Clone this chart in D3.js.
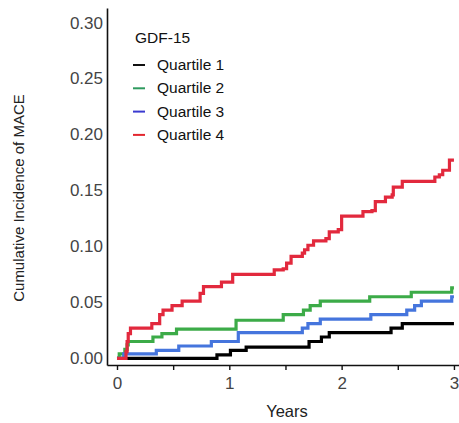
<!DOCTYPE html>
<html>
<head>
<meta charset="utf-8">
<script src="https://cdn.jsdelivr.net/npm/d3@7"></script>
<style>
  body { margin: 0; background: #fff; }
  text { font-family: "Liberation Sans", Arial, sans-serif; }
</style>
</head>
<body>
<div id="chart"></div>
<script>
// DATA (years, cumulative incidence)
var q1Times  = [0, 0.89, 1.01, 1.15, 1.71, 1.82, 1.89, 2.44, 2.54, 3.0];
var q1Values = [0, 0.003, 0.007, 0.010, 0.015, 0.019, 0.023, 0.027, 0.031, 0.031];

var q2Times  = [0, 0.02, 0.07, 0.09, 0.10, 0.32, 0.40, 0.53, 1.06, 1.48, 1.66, 1.72, 1.81, 2.25, 2.62, 2.98, 3.0];
var q2Values = [0, 0.004, 0.008, 0.012, 0.015, 0.019, 0.022, 0.026, 0.034, 0.039, 0.043, 0.047, 0.051, 0.055, 0.059, 0.063, 0.063];

var q3Times  = [0, 0.06, 0.35, 0.55, 0.84, 1.08, 1.65, 1.70, 1.81, 2.26, 2.58, 2.65, 2.71, 2.98, 3.0];
var q3Values = [0, 0.004, 0.007, 0.011, 0.015, 0.023, 0.027, 0.031, 0.035, 0.039, 0.043, 0.047, 0.051, 0.055, 0.055];

var q4Times  = [0, 0.08, 0.09, 0.10, 0.12, 0.31, 0.38, 0.41, 0.49, 0.58, 0.74, 0.77, 0.93, 1.03, 1.40, 1.48, 1.51, 1.55,
                1.65, 1.67, 1.70, 1.75, 1.86, 1.89, 1.97, 2.00, 2.19, 2.27, 2.30, 2.39, 2.45, 2.46, 2.54, 2.83, 2.87, 2.90, 2.96, 3.0];
var q4Values = [0, 0.006, 0.015, 0.022, 0.027, 0.031, 0.039, 0.043, 0.047, 0.051, 0.058, 0.064, 0.068, 0.075, 0.079, 0.080, 0.085, 0.091,
                0.094, 0.097, 0.101, 0.105, 0.107, 0.113, 0.115, 0.127, 0.131, 0.132, 0.140, 0.144, 0.146, 0.153, 0.158, 0.162, 0.164, 0.168, 0.177, 0.177];

var seriesNames = ['Quartile 1', 'Quartile 2', 'Quartile 3', 'Quartile 4'];
var legendTitle = 'GDF-15';
var xTicks = [0, 0.5, 1, 1.5, 2, 2.5, 3];
var yTicks = [0, 0.05, 0.10, 0.15, 0.20, 0.25, 0.30];

var lineColors   = ['#000000', '#3cab48', '#4575dd', '#e2293d'];
var legendColors = ['#111111', '#2e9a5e', '#3a3ad0', '#e3262e'];

var series = [
  { name: seriesNames[0], t: q1Times, v: q1Values },
  { name: seriesNames[1], t: q2Times, v: q2Values },
  { name: seriesNames[2], t: q3Times, v: q3Values },
  { name: seriesNames[3], t: q4Times, v: q4Values }
];

var width = 459, height = 423;

var svg = d3.select('#chart').append('svg')
  .attr('width', width)
  .attr('height', height);

var x = d3.scaleLinear().domain([-0.089, 3.045]).range([107, 459]);
var y = d3.scaleLinear().domain([-0.006, 0.313]).range([365, 8]);

// AXES
var xAxis = svg.append('g')
  .attr('transform', 'translate(0,365)')
  .call(d3.axisBottom(x).tickValues(xTicks).tickSizeInner(5).tickSizeOuter(0).tickPadding(7)
    .tickFormat(function(d) { return d % 1 === 0 ? d3.format('d')(d) : ''; }));
xAxis.select('.domain').attr('stroke', '#111').attr('stroke-width', 1.6);
xAxis.selectAll('.tick line').attr('stroke', '#111').attr('stroke-width', 1.4);
xAxis.selectAll('text').attr('font-size', 17).attr('fill', '#444');

var yAxis = svg.append('g')
  .attr('transform', 'translate(107,0)')
  .call(d3.axisLeft(y).tickValues(yTicks).tickSize(0).tickPadding(4).tickFormat(d3.format('.2f')));
yAxis.select('.domain').attr('stroke', '#111').attr('stroke-width', 1.6);
yAxis.selectAll('text').attr('font-size', 17).attr('fill', '#444');

// LINES
var line = d3.line()
  .x(function(d) { return x(d[0]); })
  .y(function(d) { return y(d[1]); })
  .curve(d3.curveStepAfter);

series.forEach(function(s, i) {
  svg.append('path')
    .datum(d3.zip(s.t, s.v))
    .attr('fill', 'none')
    .attr('stroke', lineColors[i])
    .attr('stroke-width', 3.2)
    .attr('d', line);
});

// AXIS TITLES
svg.append('text')
  .attr('x', 287).attr('y', 417)
  .attr('text-anchor', 'middle')
  .attr('font-size', 16.5).attr('fill', '#222')
  .text('Years');

svg.append('text')
  .attr('transform', 'translate(24,198) rotate(-90)')
  .attr('text-anchor', 'middle')
  .attr('font-size', 15).attr('fill', '#222')
  .text('Cumulative Incidence of MACE');

// LEGEND
svg.append('text')
  .attr('x', 135).attr('y', 43)
  .attr('font-size', 15.5).attr('fill', '#111')
  .text(legendTitle);

var legend = svg.selectAll('.legend')
  .data(seriesNames)
  .enter().append('g')
  .attr('class', 'legend')
  .attr('transform', function(d, i) { return 'translate(0,' + (65 + i * 23.3) + ')'; });

legend.append('line')
  .attr('x1', 133).attr('x2', 145)
  .attr('stroke', function(d, i) { return legendColors[i]; })
  .attr('stroke-width', 2);

legend.append('text')
  .attr('x', 157).attr('y', 5)
  .attr('font-size', 15.5).attr('fill', '#111')
  .text(function(d) { return d; });
</script>
</body>
</html>
